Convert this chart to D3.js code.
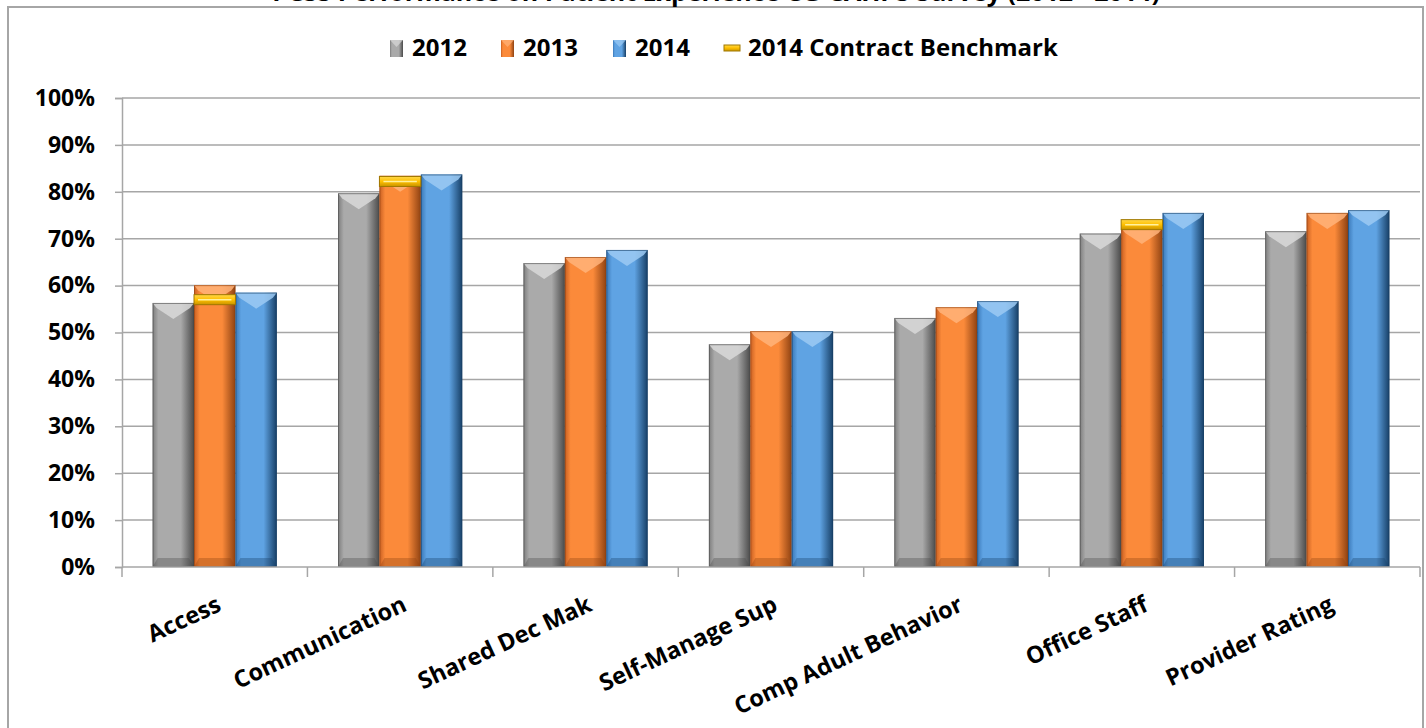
<!DOCTYPE html>
<html>
<head>
<meta charset="utf-8">
<script src="https://cdnjs.cloudflare.com/ajax/libs/d3/7.8.5/d3.min.js"></script>
<style>
  body { margin: 0; background: #fff; }
  text { font-family: "Open Sans", "DejaVu Sans", sans-serif; font-weight: bold; }
</style>
</head>
<body>
<script>
// chart values
var categories = ["Access", "Communication", "Shared Dec Mak", "Self-Manage Sup",
                  "Comp Adult Behavior", "Office Staff", "Provider Rating"];
var years = ["2012", "2013", "2014"];
var v2012 = [0.563, 0.797, 0.648, 0.475, 0.531, 0.711, 0.716];
var v2013 = [0.601, 0.834, 0.661, 0.503, 0.554, 0.723, 0.755];
var v2014 = [0.585, 0.837, 0.676, 0.503, 0.567, 0.755, 0.761];
var benchmark = [0.570, 0.822, null, null, null, 0.730, null];
var yTicks = [0, 0.1, 0.2, 0.3, 0.4, 0.5, 0.6, 0.7, 0.8, 0.9, 1];

var w = 1426, h = 728;
var padL = 122, padR = 1420, padT = 98, padB = 567;

var svg = d3.select("body").append("svg")
    .attr("width", w)
    .attr("height", h);

var defs = svg.append("defs");

// bar looks: [left edge, mid, right edge, top facet]
var looks = {
  "2012": ["#7d7d7d", "#aaaaaa", "#4a4a4a", "#d9d9d9"],
  "2013": ["#c85f22", "#fb8a3a", "#8f4212", "#ffb37a"],
  "2014": ["#3a78b8", "#5fa3e3", "#173f66", "#9ccaf3"]
};
Object.keys(looks).forEach(function (k) {
  var c = looks[k];
  var g = defs.append("linearGradient").attr("id", "g" + k)
      .attr("x1", 0).attr("x2", 1).attr("y1", 0).attr("y2", 0);
  g.append("stop").attr("offset", "0%").attr("stop-color", c[0]);
  g.append("stop").attr("offset", "14%").attr("stop-color", c[1]);
  g.append("stop").attr("offset", "68%").attr("stop-color", c[1]);
  g.append("stop").attr("offset", "100%").attr("stop-color", c[2]);
});
var yg = defs.append("linearGradient").attr("id", "gbench")
    .attr("x1", 0).attr("x2", 0).attr("y1", 0).attr("y2", 1);
yg.append("stop").attr("offset", "0%").attr("stop-color", "#ffd84a");
yg.append("stop").attr("offset", "50%").attr("stop-color", "#ffc000");
yg.append("stop").attr("offset", "100%").attr("stop-color", "#c99400");

// outer chart border
svg.append("rect")
    .attr("x", 8).attr("y", 7)
    .attr("width", 1415).attr("height", 740)
    .attr("fill", "none")
    .attr("stroke", "#a6a6a6")
    .attr("stroke-width", 2);

// title (mostly cut off at the top, as in the picture)
svg.append("text")
    .attr("x", 716).attr("y", 1)
    .attr("text-anchor", "middle")
    .style("font-size", "25px")
    .text("PCSS Performance on Patient Experience CG-CAHPS Survey (2012 - 2014)");

var x0 = d3.scaleBand()
    .domain(categories)
    .range([padL, padR])
    .paddingInner(0.33)
    .paddingOuter(0.165);

var x1 = d3.scaleBand()
    .domain(years)
    .range([0, x0.bandwidth()]);

var y = d3.scaleLinear()
    .domain([0, 1])
    .range([padB, padT]);

// gridlines
svg.append("g")
    .selectAll("line")
    .data(yTicks.slice(1))
    .enter().append("line")
    .attr("x1", padL).attr("x2", padR)
    .attr("y1", function (d) { return y(d); })
    .attr("y2", function (d) { return y(d); })
    .attr("stroke", "#a6a6a6")
    .attr("stroke-width", 1.5);

// y axis
var yAxis = d3.axisLeft(y)
    .tickValues(yTicks)
    .tickFormat(d3.format(".0%"))
    .tickSize(7)
    .tickPadding(20);
svg.append("g")
    .attr("class", "yaxis")
    .attr("transform", "translate(" + padL + ",0)")
    .call(yAxis);
svg.select(".yaxis").selectAll("line, path").attr("stroke", "#a6a6a6").attr("stroke-width", 1.5);
svg.select(".yaxis").selectAll("text").style("font-size", "23px").attr("fill", "#000");

// bars
var rows = categories.map(function (c, i) {
  return { cat: c, vals: [v2012[i], v2013[i], v2014[i]], bench: benchmark[i] };
});

var groups = svg.append("g").selectAll("g")
    .data(rows)
    .enter().append("g")
    .attr("transform", function (d) { return "translate(" + x0(d.cat) + ",0)"; });

groups.each(function (d) {
  var g = d3.select(this);
  d.vals.forEach(function (v, j) {
    var yr = years[j];
    var bx = x1(yr), bw = x1.bandwidth();
    var by = y(v), bh = y(0) - y(v);
    var c = looks[yr];
    g.append("rect")
        .attr("x", bx).attr("y", by)
        .attr("width", bw).attr("height", bh)
        .attr("fill", "url(#g" + yr + ")");
    // top chevron facet
    g.append("polygon")
        .attr("points", [[bx, by], [bx + bw, by], [bx + bw - 4, by + 5],
                         [bx + bw / 2, by + 16], [bx + 4, by + 5]].join(" "))
        .attr("fill", c[3]).attr("opacity", 0.85);
    // bottom facet
    g.append("polygon")
        .attr("points", [[bx, y(0)], [bx + bw, y(0)], [bx + bw - 5, y(0) - 9],
                         [bx + 5, y(0) - 9]].join(" "))
        .attr("fill", c[2]).attr("opacity", 0.35);
    g.append("rect")
        .attr("x", bx + 0.5).attr("y", by + 0.5)
        .attr("width", bw - 1).attr("height", bh - 1)
        .attr("fill", "none")
        .attr("stroke", c[2]).attr("stroke-opacity", 0.6);
  });
  if (d.bench != null) {
    var bx = x1("2013"), bw = x1.bandwidth();
    g.append("rect")
        .attr("x", bx).attr("y", y(d.bench) - 5)
        .attr("width", bw).attr("height", 10)
        .attr("fill", "url(#gbench)")
        .attr("stroke", "#a07800").attr("stroke-width", 1);
    g.append("line")
        .attr("x1", bx + 4).attr("x2", bx + bw - 4)
        .attr("y1", y(d.bench)).attr("y2", y(d.bench))
        .attr("stroke", "#fff1a0").attr("stroke-width", 1.5);
  }
});

// x axis line and ticks at category boundaries
var step = (padR - padL) / categories.length;
svg.append("line")
    .attr("x1", padL).attr("x2", padR)
    .attr("y1", padB).attr("y2", padB)
    .attr("stroke", "#a6a6a6").attr("stroke-width", 1.5);
svg.append("g").selectAll("line")
    .data(d3.range(categories.length + 1))
    .enter().append("line")
    .attr("x1", function (i) { return padL + i * step; })
    .attr("x2", function (i) { return padL + i * step; })
    .attr("y1", padB).attr("y2", padB + 10)
    .attr("stroke", "#a6a6a6").attr("stroke-width", 1.5);

// rotated category labels
svg.append("g").selectAll("text")
    .data(categories)
    .enter().append("text")
    .attr("text-anchor", "end")
    .attr("transform", function (d) {
      var cx = x0(d) + x0.bandwidth() / 2 + 8;
      return "translate(" + cx + "," + (padB + 43) + ") rotate(-25)";
    })
    .style("font-size", "23.5px")
    .text(function (d) { return d; });

// legend
var legendItems = [
  { name: "2012", x: 390, kind: "2012" },
  { name: "2013", x: 501, kind: "2013" },
  { name: "2014", x: 613, kind: "2014" },
  { name: "2014 Contract Benchmark", x: 724, kind: "bench" }
];
var legend = svg.append("g").selectAll("g")
    .data(legendItems)
    .enter().append("g")
    .attr("transform", function (d) { return "translate(" + d.x + ",48)"; });
legend.each(function (d) {
  var g = d3.select(this);
  if (d.kind === "bench") {
    g.append("rect").attr("x", 0).attr("y", -3).attr("width", 16).attr("height", 6)
        .attr("fill", "url(#gbench)").attr("stroke", "#a07800");
    g.append("text").attr("x", 24).attr("y", 8).style("font-size", "24px").text(d.name);
  } else {
    g.append("rect").attr("x", 0).attr("y", -8).attr("width", 13).attr("height", 17)
        .attr("fill", "url(#g" + d.kind + ")");
    g.append("polygon")
        .attr("points", "0,-8 13,-8 6.5,-1")
        .attr("fill", looks[d.kind][3]).attr("opacity", 0.7);
    g.append("text").attr("x", 22).attr("y", 8).style("font-size", "24px").text(d.name);
  }
});
</script>
</body>
</html>
